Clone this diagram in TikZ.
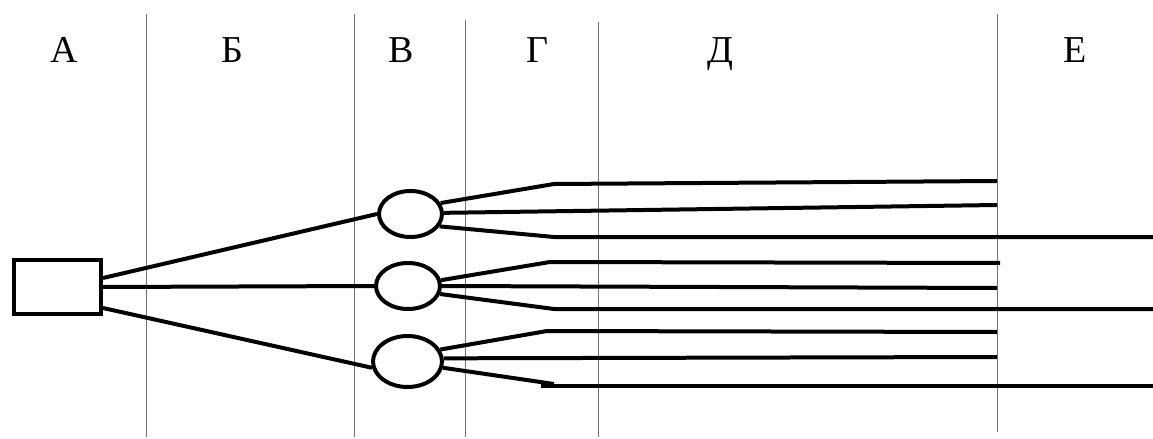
\documentclass[tikz,border=0pt]{standalone}
\usepackage{fontspec}
\setmainfont{Liberation Serif}
\usetikzlibrary{shapes.geometric}
\tikzset{
  zone/.style={anchor=base,font=\fontsize{19}{22}\selectfont},
  unit/.style={draw,line width=2pt,inner sep=0pt},
  knot/.style={unit,ellipse,minimum width=32pt,minimum height=23pt},
  cable/.style={line width=2pt},
  bound/.style={black!55,line width=0.5pt}
}
\begin{document}
\begin{tikzpicture}[x=0.5pt,y=-0.5pt]
\useasboundingbox (0,0) rectangle (1153,439);
% zone borders
\foreach \x/\t/\b in {146/14/437,354/14/437,465/20/437,598/22/437,997/14/432}
  \draw[bound] (\x,\t) -- (\x,\b);
% zone letters
\node[zone] (la) at (64,62) {А};
\node[zone] (lb) at (232,62) {Б};
\node[zone] (lv) at (401,62) {В};
\node[zone] (lg) at (537,62) {Г};
\node[zone] (ld) at (720,62) {Д};
\node[zone] (le) at (1075,62) {Е};
% source and branch knots
\node[unit,minimum width=43.5pt,minimum height=27pt] (src) at (57.5,287) {};
\node[knot,minimum width=31.5pt] (t1) at (410.5,214) {};
\node[knot] (t2) at (408,286) {};
\node[knot,minimum width=34.5pt,minimum height=25.5pt] (t3) at (407.5,361.5) {};
% bends and line ends
\coordinate (k1) at (554,184); \coordinate (e1) at (997,181);
\coordinate (e2) at (997,205);
\coordinate (k3) at (554,237); \coordinate (e3) at (1153,237);
\coordinate (k4) at (550,262); \coordinate (e4) at (1000,263);
\coordinate (e5) at (997,288);
\coordinate (k6) at (554,309); \coordinate (e6) at (1153,309);
\coordinate (k7) at (547,331); \coordinate (e7) at (997,332);
\coordinate (e8) at (997,357);
\coordinate (k9) at (554,384); \coordinate (s9) at (541,386);
\coordinate (e9) at (1153,386);
% feeders
\draw[cable] ([yshift=4.5pt]src.east) -- (t1.west);
\draw[cable] (src.east) -- (t2.west);
\draw[cable] ([yshift=-10.5pt]src.east) -- (t3.190);
% outgoing lines
\draw[cable] (t1.20) -- (k1) -- (e1);
\draw[cable] (t1.2) -- (e2);
\draw[cable] (t1.-23) -- (k3) -- (e3);
\draw[cable] (t2.10) -- (k4) -- (e4);
\draw[cable] (t2.east) -- (e5);
\draw[cable] (t2.-14) -- (k6) -- (e6);
\draw[cable] (t3.20) -- (k7) -- (e7);
\draw[cable] (t3.5) -- (e8);
\draw[cable] (t3.-10) -- (k9);
\draw[cable] (s9) -- (e9);
\end{tikzpicture}
\end{document}
